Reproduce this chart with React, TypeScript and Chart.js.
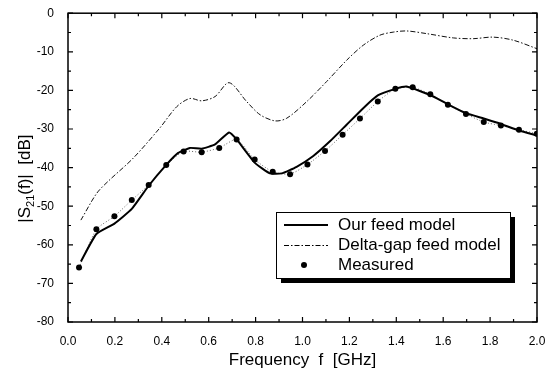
import React, { useEffect, useRef } from "react";
import { Chart, registerables } from "chart.js";

Chart.register(...registerables);

// Frequency axis (GHz) and |S21| axis (dB) tick labels
const xTicks = [0.0, 0.2, 0.4, 0.6, 0.8, 1.0, 1.2, 1.4, 1.6, 1.8, 2.0];
const yTicks = [0, -10, -20, -30, -40, -50, -60, -70, -80];

// Our feed model (solid)
const ourFreq = [0.055, 0.121, 0.198, 0.272, 0.344, 0.419, 0.47, 0.52, 0.57, 0.627, 0.687, 0.719, 0.796, 0.861, 0.911, 0.975, 1.046, 1.117, 1.188, 1.259, 1.321, 1.396, 1.444, 1.545, 1.62, 1.697, 1.773, 1.846, 1.923, 2.0];
const ourS21 = [-64.3, -57.2, -54.5, -50.7, -44.7, -39.3, -36.2, -34.9, -35.1, -34.0, -30.9, -32.7, -38.7, -41.5, -41.5, -39.8, -37.0, -33.2, -28.9, -24.6, -21.3, -19.6, -19.0, -21.2, -23.6, -25.9, -27.3, -28.7, -30.4, -31.7];

// Delta-gap feed model (dash-dot)
const gapFreq = [0.055, 0.122, 0.172, 0.279, 0.392, 0.464, 0.52, 0.57, 0.627, 0.687, 0.762, 0.819, 0.883, 0.933, 1.018, 1.103, 1.188, 1.259, 1.33, 1.387, 1.444, 1.53, 1.643, 1.728, 1.813, 1.899, 2.0];
const gapS21 = [-53.6, -46.7, -43.5, -37.5, -29.7, -24.2, -22.1, -22.7, -21.6, -18.0, -22.9, -26.3, -27.9, -27.2, -22.9, -17.7, -12.2, -8.3, -5.7, -4.9, -4.6, -5.3, -6.4, -6.6, -6.2, -7.0, -9.2];

// Measured points
const measFreq = [0.047, 0.121, 0.198, 0.272, 0.344, 0.419, 0.493, 0.57, 0.645, 0.719, 0.796, 0.873, 0.947, 1.021, 1.096, 1.171, 1.245, 1.321, 1.396, 1.47, 1.545, 1.62, 1.697, 1.773, 1.846, 1.923, 1.999];
const measS21 = [-65.9, -56.0, -52.6, -48.4, -44.5, -39.3, -35.8, -36.0, -34.9, -32.7, -37.9, -41.1, -41.7, -39.2, -35.7, -31.5, -27.3, -22.9, -19.6, -19.2, -21.0, -23.7, -26.1, -28.2, -29.1, -30.2, -31.2];

const legendLabels = ["Our feed model", "Delta-gap feed model", "Measured"];

const FONT = "'Liberation Sans', Arial, Helvetica, sans-serif";
const GAP_DASH = [5, 2, 1.5, 2];

const pts = (xs: number[], ys: number[]) => xs.map((x, i) => ({ x, y: ys[i] }));

// Frame with inward ticks on all four sides, the boxed legend and the y-axis title
const decorations = {
  id: "decorations",
  afterDraw(chart: any) {
    const { ctx, chartArea: a, scales } = chart;
    const xs = scales.x;
    const ys = scales.y;
    ctx.save();
    ctx.strokeStyle = "#000";
    ctx.lineWidth = 1.5;
    ctx.strokeRect(a.left, a.top, a.right - a.left, a.bottom - a.top);

    ctx.lineWidth = 1.2;
    ctx.beginPath();
    for (let i = 0; i < xTicks.length; i++) {
      const px = xs.getPixelForValue(xTicks[i]);
      ctx.moveTo(px, a.bottom); ctx.lineTo(px, a.bottom - 5);
      ctx.moveTo(px, a.top); ctx.lineTo(px, a.top + 5);
      if (i < xTicks.length - 1) {
        const mx = xs.getPixelForValue((xTicks[i] + xTicks[i + 1]) / 2);
        ctx.moveTo(mx, a.bottom); ctx.lineTo(mx, a.bottom - 3);
        ctx.moveTo(mx, a.top); ctx.lineTo(mx, a.top + 3);
      }
    }
    for (let i = 0; i < yTicks.length; i++) {
      const py = ys.getPixelForValue(yTicks[i]);
      ctx.moveTo(a.left, py); ctx.lineTo(a.left + 5, py);
      ctx.moveTo(a.right, py); ctx.lineTo(a.right - 5, py);
      if (i < yTicks.length - 1) {
        const my = ys.getPixelForValue((yTicks[i] + yTicks[i + 1]) / 2);
        ctx.moveTo(a.left, my); ctx.lineTo(a.left + 3, my);
        ctx.moveTo(a.right, my); ctx.lineTo(a.right - 3, my);
      }
    }
    ctx.stroke();

    // Legend box with drop shadow
    const bw = 234, bh = 66;
    const bx = a.right - 27 - bw;
    const by = a.bottom - 44 - bh;
    ctx.fillStyle = "#000";
    ctx.fillRect(bx + 5, by + 5, bw, bh);
    ctx.fillStyle = "#fff";
    ctx.fillRect(bx, by, bw, bh);
    ctx.lineWidth = 1;
    ctx.strokeRect(bx + 0.5, by + 0.5, bw, bh);

    const rows = [by + 13, by + 33, by + 53];
    ctx.strokeStyle = "#000";
    ctx.lineWidth = 2;
    ctx.beginPath();
    ctx.moveTo(bx + 8, rows[0]); ctx.lineTo(bx + 52, rows[0]);
    ctx.stroke();
    ctx.lineWidth = 1;
    ctx.setLineDash(GAP_DASH);
    ctx.beginPath();
    ctx.moveTo(bx + 8, rows[1] + 0.5); ctx.lineTo(bx + 52, rows[1] + 0.5);
    ctx.stroke();
    ctx.setLineDash([]);
    ctx.fillStyle = "#000";
    ctx.beginPath();
    ctx.arc(bx + 28, rows[2], 3, 0, Math.PI * 2);
    ctx.fill();

    ctx.font = `17px ${FONT}`;
    ctx.textBaseline = "middle";
    ctx.textAlign = "left";
    legendLabels.forEach((t, i) => ctx.fillText(t, bx + 62, rows[i]));

    // Rotated y title with subscript
    ctx.translate(30, (a.top + a.bottom) / 2 + 11);
    ctx.rotate(-Math.PI / 2);
    ctx.textBaseline = "alphabetic";
    const big = `17px ${FONT}`;
    const small = `11px ${FONT}`;
    const parts: [string, string, number][] = [["|S", big, 0], ["21", small, 4], ["(f)|  [dB]", big, 0]];
    let total = 0;
    parts.forEach(([t, f]) => { ctx.font = f; total += ctx.measureText(t).width; });
    let cx = -total / 2;
    parts.forEach(([t, f, dy]) => {
      ctx.font = f;
      ctx.fillText(t, cx, dy);
      cx += ctx.measureText(t).width;
    });
    ctx.restore();
  },
};

export default function App() {
  const ref = useRef<HTMLCanvasElement | null>(null);

  useEffect(() => {
    if (!ref.current) return;
    const chart = new Chart(ref.current, {
      type: "line",
      data: {
        datasets: [
          {
            label: legendLabels[0],
            data: pts(ourFreq, ourS21),
            borderColor: "#000",
            borderWidth: 2,
            pointRadius: 0,
            tension: 0.15,
          },
          {
            label: legendLabels[1],
            data: pts(gapFreq, gapS21),
            borderColor: "#111",
            borderWidth: 1,
            borderDash: GAP_DASH,
            pointRadius: 0,
            tension: 0.3,
          },
          {
            label: legendLabels[2],
            data: pts(measFreq, measS21),
            showLine: true,
            borderColor: "#666",
            borderWidth: 1,
            borderDash: [1, 2],
            pointRadius: 3,
            pointBorderWidth: 0,
            pointBackgroundColor: "#000",
            tension: 0.2,
          },
        ],
      },
      options: {
        animation: false,
        responsive: false,
        devicePixelRatio: 1,
        layout: { padding: { top: 11, right: 16, left: 0, bottom: 0 } },
        plugins: { legend: { display: false }, tooltip: { enabled: false } },
        scales: {
          x: {
            type: "linear",
            min: 0,
            max: 2,
            grid: { display: false },
            border: { display: false },
            afterBuildTicks: (s: any) => { s.ticks = xTicks.map((v) => ({ value: v })); },
            afterFit: (s: any) => { s.height = 49; },
            ticks: {
              color: "#000",
              padding: 4,
              maxRotation: 0,
              font: { family: FONT, size: 12 },
              callback: (v: any) => Number(v).toFixed(1),
            },
            title: {
              display: true,
              text: "Frequency  f  [GHz]",
              color: "#000",
              font: { family: FONT, size: 17 },
              padding: { top: 0, bottom: 0 },
            },
          },
          y: {
            type: "linear",
            min: -80,
            max: 0,
            grid: { display: false },
            border: { display: false },
            afterBuildTicks: (s: any) => { s.ticks = yTicks.map((v) => ({ value: v })); },
            afterFit: (s: any) => { s.width = 68; },
            ticks: {
              color: "#000",
              padding: 6,
              font: { family: FONT, size: 12 },
              callback: (v: any) => String(v),
            },
          },
        },
      },
      plugins: [decorations],
    });
    return () => chart.destroy();
  }, []);

  return (
    <div style={{ position: "fixed", left: 0, top: 0, width: 553, height: 371, background: "#fff" }}>
      <canvas ref={ref} width={553} height={371} />
    </div>
  );
}
